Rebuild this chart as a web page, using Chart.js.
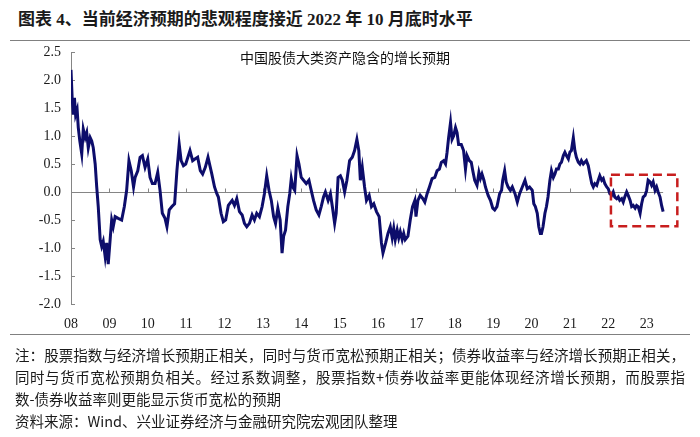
<!DOCTYPE html>
<html>
<head>
<meta charset="utf-8">
<script src="https://cdn.jsdelivr.net/npm/chart.js@4"></script>
<style>
  body { margin: 0; width: 700px; height: 437px; background: #fff; position: relative; overflow: hidden;
         font-family: "Noto Sans CJK SC", sans-serif; color: #1a1a1a; }
  #title { position: absolute; left: 18px; top: 8px; line-height: 24px; white-space: nowrap;
           font: bold 17px/24px "Liberation Serif", "Noto Sans CJK SC", serif; }
  .rule { position: absolute; left: 10px; width: 680px; height: 0; border-top: 1.5px solid #808080; }
  #wrap { position: absolute; left: 0; top: 40px; width: 700px; height: 300px; }
  #chart-title { position: absolute; left: 0; width: 690px; top: 47px; text-align: center;
                 font-size: 14px; line-height: 20px; color: #111; }
  .note { position: absolute; left: 15px; font-size: 14.5px; line-height: 20px; white-space: nowrap; }
  .just { width: 670px; text-align: justify; text-align-last: justify; }
</style>
</head>
<body>
<div id="title">图表 4、当前经济预期的悲观程度接近 2022 年 10 月底时水平</div>
<div class="rule" style="top:40px"></div>
<div id="wrap"><canvas id="growthChart" width="700" height="300"></canvas></div>
<div id="chart-title">中国股债大类资产隐含的增长预期</div>
<div class="rule" style="top:334px"></div>
<div class="note just" style="top:345px">注：股票指数与经济增长预期正相关，同时与货币宽松预期正相关；债券收益率与经济增长预期正相关，</div>
<div class="note just" style="top:367px">同时与货币宽松预期负相关。经过系数调整，股票指数+债券收益率更能体现经济增长预期，而股票指</div>
<div class="note" style="top:389px">数-债券收益率则更能显示货币宽松的预期</div>
<div class="note" style="top:411px">资料来源：Wind、兴业证券经济与金融研究院宏观团队整理</div>

<script>
/* Implied growth expectation from China's stock/bond prices.
 * dates are decimal years, values are the index level. */

const yearLabels = ["08", "09", "10", "11", "12", "13", "14", "15", "16", "17", "18", "19", "20", "21", "22", "23"];
const firstYear = 2008;

const dates = [
  2008.00, 2008.03, 2008.06, 2008.09, 2008.12, 2008.16, 2008.19, 2008.23, 2008.28, 2008.32,
  2008.37, 2008.41, 2008.45, 2008.50, 2008.54, 2008.58, 2008.63, 2008.67, 2008.71, 2008.76,
  2008.80, 2008.84, 2008.89, 2008.93, 2008.97, 2009.02, 2009.06, 2009.10, 2009.15, 2009.23,
  2009.32, 2009.39, 2009.45, 2009.51, 2009.57, 2009.63, 2009.67, 2009.74, 2009.80, 2009.86,
  2009.93, 2010.00, 2010.06, 2010.12, 2010.19, 2010.26, 2010.32, 2010.38, 2010.45, 2010.50,
  2010.56, 2010.63, 2010.70, 2010.76, 2010.82, 2010.87, 2010.93, 2010.99, 2011.10, 2011.17,
  2011.23, 2011.30, 2011.37, 2011.43, 2011.50, 2011.57, 2011.63, 2011.67, 2011.74, 2011.80,
  2011.84, 2011.91, 2011.97, 2012.03, 2012.10, 2012.20, 2012.26, 2012.32, 2012.39, 2012.46,
  2012.52, 2012.58, 2012.65, 2012.72, 2012.78, 2012.84, 2012.91, 2012.98, 2013.04, 2013.10,
  2013.16, 2013.22, 2013.28, 2013.33, 2013.39, 2013.45, 2013.50, 2013.54, 2013.59, 2013.65,
  2013.70, 2013.74, 2013.78, 2013.83, 2013.89, 2013.94, 2014.00, 2014.06, 2014.13, 2014.20,
  2014.26, 2014.32, 2014.39, 2014.46, 2014.52, 2014.58, 2014.63, 2014.70, 2014.76, 2014.81,
  2014.87, 2014.91, 2014.96, 2015.02, 2015.07, 2015.13, 2015.19, 2015.26, 2015.33, 2015.39,
  2015.45, 2015.50, 2015.54, 2015.59, 2015.65, 2015.70, 2015.77, 2015.83, 2015.89, 2015.96,
  2016.03, 2016.09, 2016.13, 2016.20, 2016.26, 2016.32, 2016.37, 2016.41, 2016.45, 2016.50,
  2016.54, 2016.58, 2016.63, 2016.67, 2016.71, 2016.78, 2016.84, 2016.90, 2016.96, 2016.99,
  2017.04, 2017.10, 2017.17, 2017.22, 2017.28, 2017.34, 2017.41, 2017.48, 2017.54, 2017.60,
  2017.65, 2017.71, 2017.76, 2017.80, 2017.84, 2017.89, 2017.93, 2017.97, 2018.02, 2018.06,
  2018.10, 2018.17, 2018.23, 2018.28, 2018.32, 2018.38, 2018.43, 2018.47, 2018.52, 2018.58,
  2018.63, 2018.67, 2018.71, 2018.76, 2018.80, 2018.87, 2018.93, 2018.99, 2019.04, 2019.10,
  2019.17, 2019.22, 2019.25, 2019.30, 2019.34, 2019.39, 2019.45, 2019.50, 2019.57, 2019.63,
  2019.69, 2019.76, 2019.83, 2019.89, 2019.95, 2020.02, 2020.06, 2020.10, 2020.15, 2020.19,
  2020.23, 2020.26, 2020.30, 2020.35, 2020.39, 2020.43, 2020.48, 2020.52, 2020.57, 2020.61,
  2020.65, 2020.70, 2020.74, 2020.78, 2020.83, 2020.87, 2020.91, 2020.96, 2021.00, 2021.04,
  2021.09, 2021.13, 2021.17, 2021.22, 2021.26, 2021.30, 2021.35, 2021.39, 2021.43, 2021.48,
  2021.52, 2021.57, 2021.61, 2021.65, 2021.70, 2021.74, 2021.78, 2021.83, 2021.87, 2021.91,
  2021.96, 2022.00, 2022.04, 2022.09, 2022.13, 2022.17, 2022.22, 2022.26, 2022.30, 2022.35,
  2022.39, 2022.43, 2022.48, 2022.52, 2022.57, 2022.61, 2022.65, 2022.70, 2022.74, 2022.78,
  2022.83, 2022.87, 2022.91, 2022.96, 2023.00, 2023.04, 2023.09, 2023.13, 2023.17, 2023.22,
  2023.26, 2023.30, 2023.35, 2023.39, 2023.43,
];

const values = [
  2.18, 1.68, 1.38, 1.68, 1.38, 1.47, 1.15, 0.91, 0.68, 1.12,
  0.97, 1.06, 0.79, 0.97, 0.91, 0.79, 0.50, 0.09, -0.26, -0.85,
  -0.97, -0.88, -1.15, -0.91, -1.29, -0.85, -0.50, -0.62, -0.44, -0.47,
  -0.50, -0.26, 0.03, 0.56, 0.38, 0.09, 0.26, 0.38, 0.62, 0.65,
  0.44, 0.59, 0.26, 0.15, 0.15, 0.35, 0.03, -0.38, -0.47, -0.62,
  -0.32, -0.26, -0.21, 0.38, 0.85, 0.56, 0.47, 0.50, 0.74, 0.56,
  0.59, 0.62, 0.38, 0.32, 0.44, 0.62, 0.44, 0.32, 0.09, -0.03,
  -0.09, -0.38, -0.53, -0.50, -0.24, -0.15, -0.24, -0.12, -0.35, -0.41,
  -0.56, -0.62, -0.56, -0.41, -0.50, -0.38, -0.44, -0.26, -0.03, 0.29,
  0.03, -0.15, -0.44, -0.56, -0.29, -0.50, -1.09, -0.79, -0.68, -0.26,
  -0.03, 0.24, 0.09, 0.03, 0.65, 0.50, 0.26, 0.21, 0.15, 0.21,
  0.03, -0.15, -0.32, -0.41, -0.26, -0.09, 0.00, -0.15, -0.03, -0.26,
  -0.56, -0.38, 0.26, 0.29, 0.21, 0.00, 0.21, 0.56, 0.62, 0.74,
  0.94, 0.74, 0.21, 0.44, 0.09, -0.15, -0.06, -0.26, -0.21, -0.35,
  -0.44, -0.91, -1.09, -0.91, -0.74, -0.62, -0.82, -0.65, -0.85, -0.68,
  -0.82, -0.71, -0.85, -0.74, -0.85, -0.79, -0.50, -0.26, -0.15, -0.44,
  -0.15, -0.06, -0.12, -0.18, -0.03, 0.09, 0.24, 0.26, 0.38, 0.41,
  0.53, 0.56, 0.50, 0.71, 0.97, 1.24, 0.94, 1.00, 1.15, 1.06,
  0.85, 0.85, 0.74, 0.41, 0.65, 0.56, 0.53, 0.38, 0.21, 0.12,
  0.35, 0.24, 0.32, 0.21, 0.09, -0.06, -0.15, -0.29, -0.32, -0.26,
  -0.03, 0.03, 0.21, 0.38, 0.18, 0.09, 0.03, 0.09, -0.03, -0.18,
  -0.03, 0.09, 0.21, 0.06, 0.09, 0.03, -0.21, -0.26, -0.38, -0.62,
  -0.74, -0.74, -0.62, -0.38, -0.26, -0.09, 0.21, 0.38, 0.26, 0.32,
  0.41, 0.41, 0.50, 0.53, 0.65, 0.71, 0.65, 0.59, 0.71, 0.74,
  0.97, 0.74, 0.62, 0.53, 0.50, 0.56, 0.50, 0.53, 0.56, 0.47,
  0.32, 0.15, 0.09, 0.15, 0.12, 0.21, 0.29, 0.21, 0.24, 0.15,
  0.09, 0.06, -0.03, -0.06, 0.00, -0.09, -0.12, -0.09, -0.15, -0.12,
  -0.18, -0.09, 0.00, -0.06, -0.15, -0.26, -0.24, -0.29, -0.24, -0.26,
  -0.38, -0.21, -0.09, -0.06, 0.03, 0.21, 0.18, 0.12, 0.18, 0.03,
  0.09, 0.00, -0.09, -0.24, -0.35,
];

// Highlighted window (red dashed box), in data units.
const boxX = [2022.07, 2023.80];
const boxY = [0.31, -0.61];

const LINE_COLOR = "#0d0d6b";
const AXIS_COLOR = "#858585";
const TICK_FONT = { family: "Liberation Serif", size: 14 };

// Zero line with upward year ticks, inward y ticks, and the highlight box.
const decor = {
  id: "decor",
  beforeDatasetsDraw(chart) {
    const { ctx, scales: { x, y } } = chart;
    const y0 = Math.round(y.getPixelForValue(0)) + 0.5;
    ctx.save();
    ctx.strokeStyle = AXIS_COLOR;
    ctx.lineWidth = 1;
    ctx.beginPath();
    ctx.moveTo(x.getPixelForValue(dates[0]), y0);
    ctx.lineTo(x.getPixelForValue(dates[dates.length - 1]), y0);
    for (let i = 1; i < yearLabels.length; i++) {
      const px = Math.round(x.getPixelForValue(firstYear + i)) + 0.5;
      ctx.moveTo(px, y0);
      ctx.lineTo(px, y0 - 4);
    }
    for (const t of y.ticks) {
      const py = Math.round(y.getPixelForValue(t.value)) + 0.5;
      ctx.moveTo(x.left, py);
      ctx.lineTo(x.left + 4, py);
    }
    ctx.stroke();
    ctx.restore();
  },
  afterDatasetsDraw(chart) {
    const { ctx, scales: { x, y } } = chart;
    const x1 = x.getPixelForValue(boxX[0]);
    const x2 = x.getPixelForValue(boxX[1]);
    const y1 = y.getPixelForValue(boxY[0]);
    const y2 = y.getPixelForValue(boxY[1]);
    ctx.save();
    ctx.strokeStyle = "#c81e1e";
    ctx.lineWidth = 2.5;
    ctx.setLineDash([9, 5]);
    ctx.strokeRect(x1, y1, x2 - x1, y2 - y1);
    ctx.restore();
  },
};

new Chart(document.getElementById("growthChart"), {
  type: "line",
  data: {
    datasets: [{
      data: dates.map((d, i) => ({ x: d, y: values[i] })),
      borderColor: LINE_COLOR,
      borderWidth: 3,
      pointRadius: 0,
      tension: 0,
      fill: false,
    }],
  },
  options: {
    responsive: false,
    animation: false,
    events: [],
    layout: { padding: { left: 0, right: 15, top: 12, bottom: 0 } },
    plugins: { legend: { display: false }, title: { display: false }, tooltip: { enabled: false } },
    scales: {
      x: {
        type: "linear",
        min: firstYear,
        max: firstYear + yearLabels.length,
        grid: { display: false, drawTicks: false },
        border: { display: false },
        afterFit: (s) => { s.height = 36; s.paddingLeft = 0; s.paddingRight = 0; },
        afterBuildTicks: (s) => { s.ticks = yearLabels.map((_, i) => ({ value: firstYear + i })); },
        ticks: {
          autoSkip: false,
          maxRotation: 0,
          padding: 12,
          color: "#1a1a1a",
          font: TICK_FONT,
          callback: (v) => yearLabels[Math.round(v - firstYear)] ?? "",
        },
      },
      y: {
        min: -2,
        max: 2.5,
        grid: { display: false, drawTicks: false },
        border: { display: true, color: AXIS_COLOR, width: 1 },
        afterFit: (s) => { s.width = 71; s.paddingTop = 0; s.paddingBottom = 0; },
        ticks: {
          stepSize: 0.5,
          padding: 10,
          color: "#1a1a1a",
          font: TICK_FONT,
          callback: (v) => v.toFixed(1),
        },
      },
    },
  },
  plugins: [decor],
});
</script>
</body>
</html>
